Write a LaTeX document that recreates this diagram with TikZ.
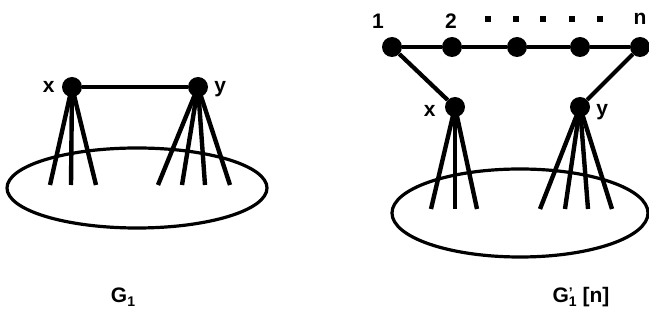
\documentclass[tikz,border=0pt]{standalone}
\usepackage{fontspec}
\setmainfont{Liberation Sans}
\usetikzlibrary{positioning}
\tikzset{
  vtx/.style={circle,fill=black,inner sep=0pt,minimum size=20pt},
  link/.style={line width=4.2pt},
  fan/.style={line width=4.4pt,shorten <=-2pt},
  blob/.style={line width=3.2pt},
  lbl/.style={font=\bfseries\fontsize{21}{23}\selectfont,inner sep=1pt},
  gname/.style={font=\bfseries\fontsize{21}{23}\selectfont,inner sep=1pt},
  sqdot/.style={fill=black,inner sep=0pt,minimum size=6pt},
}
\newcommand{\sub}[1]{\raisebox{-4pt}{\fontsize{14}{15}\selectfont #1}}

\begin{document}
\begin{tikzpicture}[x=1pt,y=-1pt]
\useasboundingbox (0,0) rectangle (649,323);
% ---------- G_1 ----------
\draw[blob] (137,188) ellipse [x radius=130,y radius=40];
\node[vtx] (x1) at (72,87) {};
\node[vtx] (y1) at (198,87) {};
\draw[link] (x1) -- (y1);
\foreach \px [count=\i] in {50,71,96}{
  \coordinate (ax\i) at (\px,185);
  \draw[fan] (x1.center) -- (ax\i);
}
\foreach \px [count=\i] in {158,182,205,230}{
  \coordinate (ay\i) at (\px,185);
  \draw[fan] (y1.center) -- (ay\i);
}
\node[lbl,left=6pt of x1] (lx1) {x};
\node[lbl,right=5pt of y1,yshift=-2pt] (ly1) {y};
\node[gname] (g1) at (123,297) {G\sub{1}};
% ---------- G'_1[n] ----------
\draw[blob] (520,213) ellipse [x radius=128,y radius=44];
\foreach \px/\nm in {392/p1,452/p2,517/p3,580/p4,640/p5}{
  \node[vtx] (\nm) at (\px,47) {};
}
\draw[link] (p1) -- (p2) -- (p3) -- (p4) -- (p5);
\node[vtx] (x2) at (455,107) {};
\node[vtx] (y2) at (580,107) {};
\draw[link] (p1) -- (x2);
\draw[link] (p5) -- (y2);
\foreach \px [count=\i] in {431,455,477}{
  \coordinate (bx\i) at (\px,209);
  \draw[fan] (x2.center) -- (bx\i);
}
\foreach \px [count=\i] in {540,565,588,612}{
  \coordinate (by\i) at (\px,209);
  \draw[fan] (y2.center) -- (by\i);
}
\node[lbl] (n1) at (378,21) {1};
\node[lbl] (n2) at (451,21) {2};
\node[lbl] (nn) at (640,19) {n};
\foreach \px [count=\i] in {488,516,543,572,600}{
  \node[sqdot] (d\i) at (\px,19) {};
}
\node[lbl,left=8pt of x2,yshift=-4pt] (lx2) {x};
\node[lbl,right=5pt of y2,yshift=-5pt] (ly2) {y};
\node[gname] (g2) at (581,297) {G\rlap{\raisebox{5pt}{\fontsize{14}{15}\selectfont '}}\sub{1} [n]};
\end{tikzpicture}
\end{document}
